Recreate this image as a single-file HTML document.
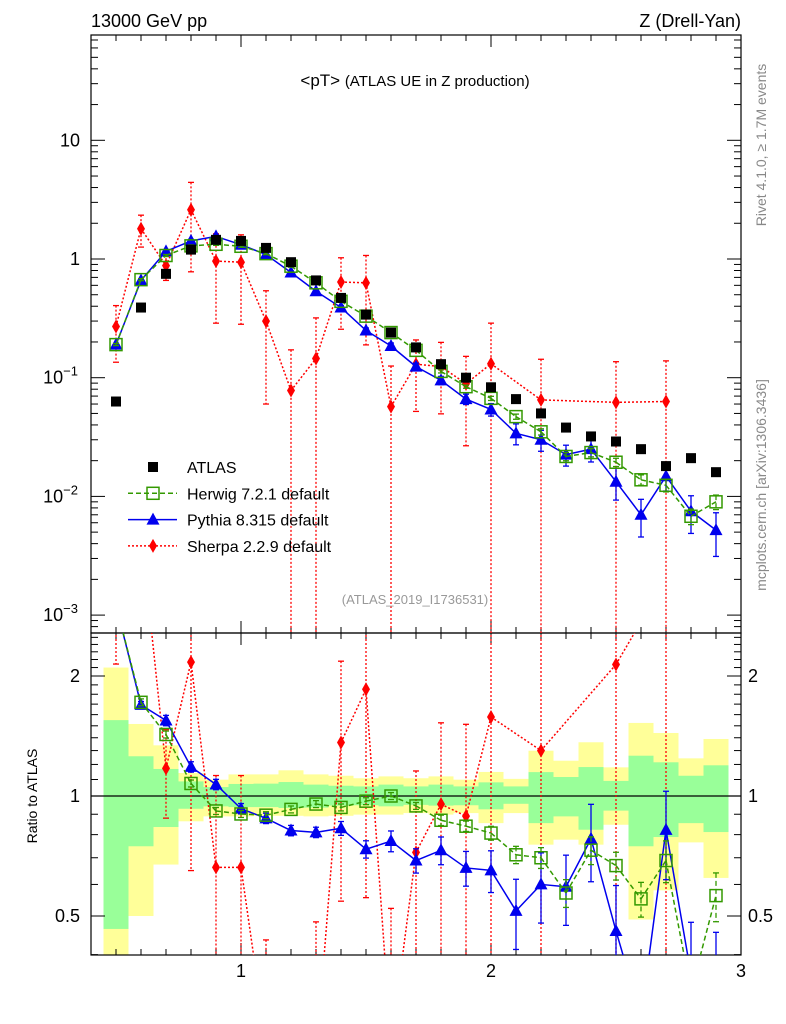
<!DOCTYPE html>
<html><head><meta charset="utf-8"><style>
html,body{margin:0;background:#fff;overflow:hidden;width:786px;height:1024px;}
svg{display:block;font-family:"Liberation Sans",sans-serif;}
</style></head><body>
<svg id="chart" width="786" height="1024" viewBox="0 0 786 1024">
<g id="bands"></g>
<g id="axes"></g>
<g id="series"></g>
<text x="91" y="27" font-size="18">13000 GeV pp</text>
<text x="741" y="27" font-size="18" text-anchor="end">Z (Drell-Yan)</text>
<text x="415" y="86" font-size="17" text-anchor="middle">&lt;pT&gt; <tspan font-size="15">(ATLAS UE in Z production)</tspan></text>
<text x="415" y="604" font-size="13" fill="#999" text-anchor="middle">(ATLAS_2019_I1736531)</text>
<text transform="translate(766,145) rotate(-90)" font-size="14" fill="#888" text-anchor="middle">Rivet 4.1.0, ≥ 1.7M events</text>
<text transform="translate(766,485) rotate(-90)" font-size="14" fill="#888" text-anchor="middle">mcplots.cern.ch [arXiv:1306.3436]</text>
<text transform="translate(37,796) rotate(-90)" font-size="14" text-anchor="middle">Ratio to ATLAS</text>
<g id="legend"></g>
</svg>
<script>
const xs=[0.5,0.6,0.7,0.8,0.9,1.0,1.1,1.2,1.3,1.4,1.5,1.6,1.7,1.8,1.9,2.0,2.1,2.2,2.3,2.4,2.5,2.6,2.7,2.8,2.9];
const atlas=[0.063,0.39,0.75,1.2,1.45,1.42,1.24,0.94,0.66,0.47,0.34,0.24,0.18,0.13,0.10,0.083,0.066,0.05,0.038,0.032,0.029,0.025,0.018,0.021,0.016];
const herwig=[0.19,0.67,1.07,1.29,1.33,1.28,1.11,0.87,0.63,0.44,0.33,0.24,0.17,0.113,0.084,0.067,0.047,0.035,0.0217,0.0234,0.0194,0.0138,0.0124,0.0068,0.009];
const herwigErr=[0.02,0.02,0.02,0.02,0.02,0.02,0.02,0.02,0.02,0.02,0.02,0.02,0.02,0.03,0.03,0.04,0.05,0.06,0.08,0.08,0.08,0.1,0.12,0.15,0.14];
const pythia=[0.19,0.66,1.16,1.42,1.55,1.32,1.09,0.77,0.535,0.39,0.25,0.185,0.124,0.095,0.066,0.054,0.034,0.03,0.0225,0.025,0.0133,0.007,0.0148,0.0075,0.0052];
const pythiaErr=[0.02,0.02,0.03,0.03,0.03,0.03,0.03,0.03,0.03,0.04,0.05,0.06,0.07,0.08,0.1,0.12,0.2,0.2,0.2,0.22,0.3,0.35,0.25,0.35,0.4];
const sherpa=[0.27,1.8,0.88,2.6,0.96,0.94,0.3,0.078,0.145,0.64,0.63,0.057,0.13,0.124,0.089,0.131,null,0.065,null,null,0.062,null,0.063,null,null];
const sherpaErr=[0.5,0.3,0.25,0.7,0.7,0.7,0.8,1.2,1.2,0.6,0.7,1.2,0.6,0.6,0.7,1.2,0,1.2,0,0,1.2,0,1.2,0,0];
const yellowHi=[2.10,1.516,1.34,1.142,1.099,1.133,1.133,1.16,1.133,1.124,1.108,1.12,1.108,1.12,1.099,1.149,1.104,1.299,1.226,1.364,1.18,1.525,1.439,1.243,1.39];
const greenHi=[1.55,1.258,1.169,1.088,1.053,1.072,1.074,1.084,1.068,1.061,1.057,1.068,1.057,1.068,1.057,1.082,1.057,1.148,1.116,1.182,1.091,1.262,1.215,1.124,1.194];
const greenLo=[0.464,0.748,0.836,0.929,0.942,0.938,0.938,0.933,0.935,0.946,0.948,0.942,0.95,0.946,0.948,0.926,0.956,0.855,0.889,0.823,0.919,0.748,0.789,0.855,0.812];
const yellowLo=[0.35,0.50,0.673,0.864,0.889,0.889,0.892,0.892,0.889,0.892,0.898,0.898,0.906,0.898,0.906,0.855,0.906,0.755,0.777,0.755,0.847,0.49,0.58,0.765,0.623];
const yTicks=[10,1,0.1,0.01,0.001];
const yTickLabels=["10","1","10^-1","10^-2","10^-3"];
const rTicks=[2,1,0.5];
const rTickLabels=["2","1","0.5"];
const xTicks=[1,2,3];
const xTickLabels=["1","2","3"];

const NS="http://www.w3.org/2000/svg";
const L=91,R=741,T=35,MB=633,RB=955;
const X=v=>L+(v-0.4)/(2.6)*(R-L);
const Y=v=>259-118.7*Math.log10(v);
const RY=v=>796-120*Math.log2(v);
function el(tag,attrs,parent){const e=document.createElementNS(NS,tag);for(const k in attrs)e.setAttribute(k,attrs[k]);parent.appendChild(e);return e;}
const svg=document.getElementById('chart');
const bands=document.getElementById('bands'),axes=document.getElementById('axes'),series=document.getElementById('series');
const clipR=el('clipPath',{id:'cr'},svg);el('rect',{x:L,y:MB,width:R-L,height:RB-MB},clipR);
const clipM=el('clipPath',{id:'cm'},svg);el('rect',{x:L,y:T,width:R-L,height:MB-T},clipM);
bands.setAttribute('clip-path','url(#cr)');
xs.forEach((x,i)=>{
 const x0=X(x-0.05),w=X(x+0.05)-x0;
 const lo=Math.min(RY(yellowLo[i]),RB);
 const y1=el('rect',{x:x0,y:RY(yellowHi[i]),width:w,height:lo-RY(yellowHi[i]),fill:'#ffff99'},bands);
 
 const g1=el('rect',{x:x0,y:RY(greenHi[i]),width:w,height:Math.min(RY(greenLo[i]),RB)-RY(greenHi[i]),fill:'#99ff99'},bands);
 
});
el('line',{x1:L,x2:R,y1:RY(1),y2:RY(1),stroke:'#000','stroke-width':1.2},axes);
el('rect',{x:L,y:T,width:R-L,height:MB-T,fill:'none',stroke:'#000','stroke-width':1.2},axes);
el('rect',{x:L,y:MB,width:R-L,height:RB-MB,fill:'none',stroke:'#000','stroke-width':1.2},axes);
for(let k=5;k<=29;k++){const v=k/10,px=X(v),maj=(k%10===0);
 [[MB,-1],[T,1],[RB,-1],[MB,1]].forEach(([yy,d])=>el('line',{x1:px,x2:px,y1:yy,y2:yy+d*(maj?12:6),stroke:'#000'},axes));}
xTicks.forEach((v,i)=>{const t=el('text',{x:X(v),y:977,'font-size':18,'text-anchor':'middle'},axes);t.textContent=xTickLabels[i];
 });
for(let e=-4;e<=1;e++)for(let m=1;m<10;m++){const v=m*Math.pow(10,e),py=Y(v);if(py<T||py>MB)continue;const len=m===1?14:7;
 el('line',{x1:L,x2:L+len,y1:py,y2:py,stroke:'#000'},axes);el('line',{x1:R,x2:R-len,y1:py,y2:py,stroke:'#000'},axes);}
yTicks.forEach((v,i)=>{const lab=yTickLabels[i];const t=el('text',{x:80,y:Y(v)+6,'font-size':18,'text-anchor':'end'},axes);
 if(lab.includes('^')){const [b,p]=lab.split('^');t.setAttribute('x',78);t.textContent=b;const s=el('tspan',{dy:-8,'font-size':13},t);s.textContent=p.replace('-','−');}
 else t.textContent=lab;
 });
[0.4,0.5,0.6,0.7,0.8,0.9,1,1.1,1.2,1.3,1.4,1.5,1.6,1.7,1.8,1.9,2,2.1,2.2,2.3,2.4,2.5].forEach(v=>{const py=RY(v);if(py<MB||py>RB)return;
 const maj=(v===0.5||v===1||v===2);const len=maj?14:7;
 el('line',{x1:L,x2:L+len,y1:py,y2:py,stroke:'#000'},axes);el('line',{x1:R,x2:R-len,y1:py,y2:py,stroke:'#000'},axes);});
rTicks.forEach((v,i)=>{[80,748].forEach((xx,j)=>{const t=el('text',{x:xx,y:RY(v)+6,'font-size':18,'text-anchor':j?'start':'end'},axes);t.textContent=rTickLabels[i];
 });});

const gm=el('g',{'clip-path':'url(#cm)'},series),gr=el('g',{'clip-path':'url(#cr)'},series);
function marker(g,type,px,py,col){
 if(type==='sq')return el('rect',{x:px-6,y:py-6,width:12,height:12,fill:'none',stroke:col,'stroke-width':1.5},g);
 if(type==='tri')return el('path',{d:`M${px},${py-7}L${px+6.5},${py+5}L${px-6.5},${py+5}Z`,fill:col},g);
 if(type==='dia')return el('path',{d:`M${px},${py-7}L${px+4},${py}L${px},${py+7}L${px-4},${py}Z`,fill:col},g);
 return el('rect',{x:px-5,y:py-5,width:10,height:10,fill:col},g);
}
// clip segment to y range [y0,y1]
function clipSeg(a,b,y0,y1){
 let [ax,ay]=a,[bx,by]=b;
 if((ay<y0&&by<y0)||(ay>y1&&by>y1))return null;
 const at=y=>{const t=(y-ay)/(by-ay);return [ax+t*(bx-ax),y];};
 let p=[ax,ay],q=[bx,by];
 if(ay<y0)p=at(y0);else if(ay>y1)p=at(y1);
 if(by<y0)q=at(y0);else if(by>y1)q=at(y1);
 return [p,q];
}
function drawSeries(vals,errs,col,dash,type,name){
 [[gm,Y,v=>v,T,MB],[gr,RY,(v,i)=>v/atlas[i],MB,RB]].forEach(([g,fy,tr,top,bot])=>{
  const pts=[];
  const cl=y=>Math.max(top-2,Math.min(bot+2,y));
  vals.forEach((v,i)=>{if(v==null)return;const rv=tr(v,i);const px=X(xs[i]);
   const hi=rv*(1+errs[i]),lo=rv*(1-errs[i]);const yl=lo>0?cl(fy(lo)):bot+2;
   const yh=cl(fy(hi));
   if(!(yh>=bot+2&&yl>=bot+2)&&!(yh<=top-2&&yl<=top-2)){
    el('line',{x1:px,x2:px,y1:yh,y2:yl,stroke:col,'stroke-width':1.3,'stroke-dasharray':dash},g);
    if(fy(hi)>=top&&fy(hi)<=bot)el('line',{x1:px-3,x2:px+3,y1:yh,y2:yh,stroke:col,'stroke-width':1.3},g);
    if(lo>0&&fy(lo)>=top&&fy(lo)<=bot)el('line',{x1:px-3,x2:px+3,y1:yl,y2:yl,stroke:col,'stroke-width':1.3},g);
   }
   pts.push([px,fy(rv)]);});
  let d='';
  for(let k=0;k+1<pts.length;k++){const s=clipSeg(pts[k],pts[k+1],top-1,bot+1);if(s)d+=`M${s[0][0]},${s[0][1]}L${s[1][0]},${s[1][1]}`;}
  if(d){const pl=el('path',{d:d,fill:'none',stroke:col,'stroke-width':1.5,'stroke-dasharray':dash},g);
  }
  pts.forEach(p=>{if(p[1]<top-8||p[1]>bot+8)return;const m=marker(g,type,p[0],p[1],col);});
 });
}
drawSeries(sherpa,sherpaErr,'#ff0000','2,2','dia','sherpa');
drawSeries(pythia,pythiaErr,'#0000ee','','tri','pythia');
drawSeries(herwig,herwigErr,'#339900','5,3','sq','herwig');
atlas.forEach((v,i)=>{const m=marker(gm,'box',X(xs[i]),Y(v),'#000');});

const lg=document.getElementById('legend');
const rows=[['ATLAS','#000','none','box'],['Herwig 7.2.1 default','#339900','5,3','sq'],['Pythia 8.315 default','#0000ee','','tri'],['Sherpa 2.2.9 default','#ff0000','2,2','dia']];
rows.forEach((r,i)=>{const yy=467+i*26.3;
 const g=el('g',{},lg);
 if(i>0)el('line',{x1:128,x2:177,y1:yy,y2:yy,stroke:r[1],'stroke-width':1.5,'stroke-dasharray':r[2]},g);
 marker(g,r[3],153,yy,r[1]);
 const t=el('text',{x:187,y:yy+6,'font-size':16},g);t.textContent=r[0];});
</script>
</body></html>
